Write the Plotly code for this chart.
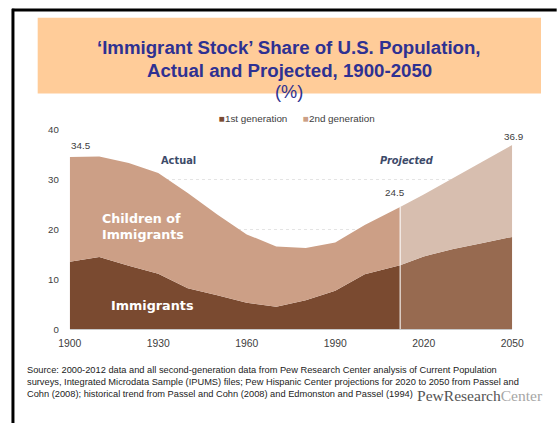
import plotly.graph_objects as go

# ---- data ----
years_actual = [1900, 1910, 1920, 1930, 1940, 1950, 1960, 1970, 1980, 1990, 2000, 2012]
first_gen_actual = [13.5, 14.5, 12.7, 11.1, 8.2, 6.8, 5.3, 4.5, 5.8, 7.7, 11.0, 12.8]
total_actual = [34.5, 34.6, 33.3, 31.3, 27.3, 23.0, 19.0, 16.6, 16.3, 17.4, 20.9, 24.5]

years_proj = [2012, 2020, 2030, 2040, 2050]
first_gen_proj = [12.8, 14.6, 16.1, 17.3, 18.5]
total_proj = [24.5, 27.0, 30.3, 33.6, 36.9]

second_gen_actual = [round(t - f, 2) for t, f in zip(total_actual, first_gen_actual)]
second_gen_proj = [round(t - f, 2) for t, f in zip(total_proj, first_gen_proj)]

x_ticks = [1900, 1930, 1960, 1990, 2020, 2050]
y_ticks = [0, 10, 20, 30, 40]

series_names = ["1st generation", "2nd generation"]

C1 = "#7A4A30"
C2 = "#CC9F86"
C1P = "#976A50"
C2P = "#D7BEAF"
TITLE_C = "#2E3192"
LABEL_C = "#3D4B6A"
TEXT_C = "#404040"

W, H = 558, 423
# the photographed page appears slightly reduced and centred; map target picture pixels
# to figure pixels so that the photographed result lines up with the reference
SX, SY, OXF, OYF = 0.964, 0.975, 10.5, 5.5

def X(x_img):
    return (x_img / SX - OXF) / W

def Y(y_img):
    return 1 - (y_img / SY - OYF) / H

def F(size_img):
    return size_img / SX

SANS = "Liberation Sans, Arial"
WIDE = "DejaVu Sans, Verdana"

fig = go.Figure()
fig.add_trace(go.Scatter(x=years_actual, y=first_gen_actual, stackgroup="a", mode="none",
                         fillcolor=C1, name=series_names[0], showlegend=False))
fig.add_trace(go.Scatter(x=years_actual, y=second_gen_actual, stackgroup="a", mode="none",
                         fillcolor=C2, name=series_names[1], showlegend=False))
fig.add_trace(go.Scatter(x=years_proj, y=first_gen_proj, stackgroup="p", mode="none",
                         fillcolor=C1P, name=series_names[0] + " (projected)", showlegend=False))
fig.add_trace(go.Scatter(x=years_proj, y=second_gen_proj, stackgroup="p", mode="none",
                         fillcolor=C2P, name=series_names[1] + " (projected)", showlegend=False))

shapes = []
# slide frame (left and top edges)
shapes.append(dict(type="line", xref="paper", yref="paper", x0=1.0 / W, x1=1.0 / W, y0=Y(8), y1=-0.02,
                   line=dict(color="black", width=3)))
shapes.append(dict(type="line", xref="paper", yref="paper", x0=0, x1=1.02, y0=Y(9.3), y1=Y(9.3),
                   line=dict(color="black", width=3)))
# title box
shapes.append(dict(type="rect", xref="paper", yref="paper", x0=X(36), x1=X(543), y0=Y(93), y1=Y(17),
                   fillcolor="#FFCC99", line=dict(width=0), layer="below"))
# separator between actual and projected
shapes.append(dict(type="line", xref="x", yref="y", x0=years_proj[0], x1=years_proj[0],
                   y0=0, y1=total_proj[0], line=dict(color="white", width=1)))

ann = []
ann.append(dict(xref="paper", yref="paper", x=X(289.5), y=Y(34), showarrow=False,
                text="<b>‘Immigrant Stock’ Share of U.S. Population,</b>",
                font=dict(family=SANS, size=F(18), color=TITLE_C)))
ann.append(dict(xref="paper", yref="paper", x=X(289.5), y=Y(57), showarrow=False,
                text="<b>Actual and Projected, 1900-2050</b>",
                font=dict(family=SANS, size=F(18), color=TITLE_C)))
ann.append(dict(xref="paper", yref="paper", x=X(289.5), y=Y(79), showarrow=False,
                text="(%)",
                font=dict(family=SANS, size=F(17.5), color=TITLE_C)))
# legend
ann.append(dict(xref="paper", yref="paper", x=X(217), y=Y(110), xanchor="left", showarrow=False,
                text=f"<span style='color:{C1}'>■</span>{series_names[0]}",
                font=dict(family=SANS, size=F(9.5), color=TEXT_C)))
ann.append(dict(xref="paper", yref="paper", x=X(301), y=Y(110), xanchor="left", showarrow=False,
                text=f"<span style='color:{C2}'>■</span>{series_names[1]}",
                font=dict(family=SANS, size=F(9.5), color=TEXT_C)))
# value labels
ann.append(dict(x=years_actual[0], y=total_actual[0], text=f"{total_actual[0]:.1f}", showarrow=False,
                xanchor="left", xshift=-1, yshift=11,
                font=dict(family=SANS, size=F(9.5), color=TEXT_C)))
ann.append(dict(x=years_proj[0], y=total_proj[0], text=f"{total_proj[0]:.1f}", showarrow=False,
                xshift=-5, yshift=14.5,
                font=dict(family=SANS, size=F(9.5), color=TEXT_C)))
ann.append(dict(x=years_proj[-1], y=total_proj[-1], text=f"{total_proj[-1]:.1f}", showarrow=False,
                xshift=2, yshift=8,
                font=dict(family=SANS, size=F(9.5), color=TEXT_C)))
# region labels
ann.append(dict(x=1936.7, y=33.7, text="<b>Actual</b>", showarrow=False,
                font=dict(family=WIDE, size=F(9.5), color=LABEL_C)))
ann.append(dict(x=2014.4, y=33.7, text="<b><i>Projected</i></b>", showarrow=False,
                font=dict(family=WIDE, size=F(9.5), color=LABEL_C)))
ann.append(dict(x=1910.3, y=20.6, text="<b>Children of<br>Immigrants</b>", showarrow=False,
                xanchor="left", align="left",
                font=dict(family=WIDE, size=F(12.2), color="white")))
ann.append(dict(x=1927.8, y=4.8, text="<b>Immigrants</b>", showarrow=False,
                font=dict(family=WIDE, size=F(12.3), color="white")))
# source
ann.append(dict(xref="paper", yref="paper", x=X(23.5), y=Y(362.5), xanchor="left", yanchor="top",
                align="left", showarrow=False,
                text=("Source: 2000-2012 data and all second-generation data from Pew Research Center analysis of Current Population<br>"
                      "surveys, Integrated Microdata Sample (IPUMS) files; Pew Hispanic Center projections for 2020 to 2050 from Passel and<br>"
                      "Cohn (2008); historical trend from Passel and Cohn (2008) and Edmonston and Passel (1994)"),
                font=dict(family=SANS, size=F(8.95), color="#222222")))
# logo
ann.append(dict(xref="paper", yref="paper", x=557 / W, y=Y(406), xanchor="right", showarrow=False,
                text="<span style='color:#555555'>PewResearch</span><span style='color:#A6A6A6'>Center</span>",
                font=dict(family="Liberation Serif, Times New Roman", size=F(15), color="#555555")))

fig.update_layout(
    width=W, height=H,
    margin=dict(l=0, r=0, t=0, b=0),
    paper_bgcolor="white", plot_bgcolor="white",
    showlegend=False,
    shapes=shapes, annotations=ann,
    xaxis=dict(domain=[X(68.3), X(514)], range=[1900, 2050], tickvals=x_ticks,
               showgrid=False, zeroline=False, showline=True, linecolor="#C8C8C8", linewidth=1,
               ticks="", ticklabelstandoff=4,
               tickfont=dict(family=SANS, size=F(10), color=TEXT_C)),
    yaxis=dict(domain=[Y(329), Y(129)], range=[0, 40], tickvals=y_ticks,
               showgrid=True, gridcolor="#E4E4E4", gridwidth=1, griddash="dot", zeroline=False,
               ticks="", ticklabelstandoff=10,
               tickfont=dict(family=SANS, size=F(9.3), color=TEXT_C)),
)

css_js = ("var s=document.createElement('style');"
          "s.innerHTML='html,body{margin:0 !important;padding:0 !important;overflow:hidden !important;}';"
          "document.head.appendChild(s);")

fig.write_html("out.html", config={"displayModeBar": False}, post_script=css_js)
